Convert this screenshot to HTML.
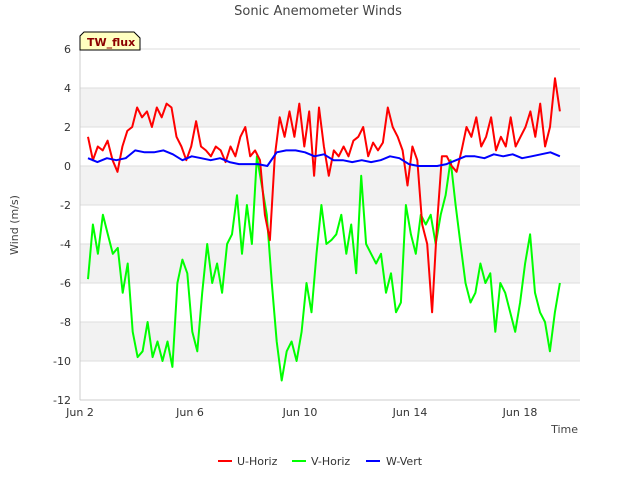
<!DOCTYPE html>
<html><head><meta charset="utf-8"><style>
body{margin:0;background:#fff;font-family:"Liberation Sans","DejaVu Sans",sans-serif}
svg text{font-family:"DejaVu Sans","Liberation Sans",sans-serif}
</style></head><body>
<svg id="chart" width="640" height="480">
<text x="318" y="15" text-anchor="middle" font-size="13" fill="#444">Sonic Anemometer Winds</text>
<g id="bands"></g><g id="grid"></g>
<line x1="80" y1="49" x2="80" y2="400" stroke="#ccc"/>
<line x1="80" y1="400" x2="580" y2="400" stroke="#ccc"/>
<g id="ticks"></g>
<g id="series"></g>
<text transform="translate(18,225) rotate(-90)" text-anchor="middle" font-size="11" fill="#444">Wind (m/s)</text>
<text x="578" y="433" text-anchor="end" font-size="11" fill="#444">Time</text>
<g>
<path d="M80,50 L80,36 L84,32 L134,32 L140,38 L140,50 Z" fill="#ffffc0" stroke="#000" stroke-width="1"/>
<text x="87" y="46" font-size="11" font-weight="bold" fill="#8b0000">TW_flux</text></g>
<g>
<g><line x1="218" y1="461" x2="232" y2="461" stroke="#f00" stroke-width="2"/><text x="237" y="465" font-size="11" fill="#333">U-Horiz</text></g>
<g><line x1="292" y1="461" x2="306" y2="461" stroke="#0f0" stroke-width="2"/><text x="311" y="465" font-size="11" fill="#333">V-Horiz</text></g>
<g><line x1="366" y1="461" x2="380" y2="461" stroke="#00f" stroke-width="2"/><text x="386" y="465" font-size="11" fill="#333">W-Vert</text></g>
</g>
</svg>
<script>
const yTicks=[6,4,2,0,-2,-4,-6,-8,-10,-12];
const xTickDays=[0,4,8,12,16];
const xTickLabels=["Jun 2","Jun 6","Jun 10","Jun 14","Jun 18"];
const tStart=0.29, tEnd=17.45;
const uHoriz=[1.5,0.3,1.0,0.8,1.3,0.3,-0.3,1.0,1.8,2.0,3.0,2.5,2.8,2.0,3.0,2.5,3.2,3.0,1.5,1.0,0.3,1.0,2.3,1.0,0.8,0.5,1.0,0.8,0.2,1.0,0.5,1.5,2.0,0.5,0.8,0.3,-2.5,-3.8,0.5,2.5,1.5,2.8,1.5,3.2,1.0,2.8,-0.5,3.0,1.0,-0.5,0.8,0.5,1.0,0.5,1.3,1.5,2.0,0.5,1.2,0.8,1.2,3.0,2.0,1.5,0.8,-1.0,1.0,0.3,-3.0,-4.0,-7.5,-3.0,0.5,0.5,0.0,-0.3,0.8,2.0,1.5,2.5,1.0,1.5,2.5,0.8,1.5,1.0,2.5,1.0,1.5,2.0,2.8,1.5,3.2,1.0,2.0,4.5,2.8];
const vHoriz=[-5.8,-3.0,-4.5,-2.5,-3.5,-4.5,-4.2,-6.5,-5.0,-8.5,-9.8,-9.5,-8.0,-9.8,-9.0,-10.0,-9.0,-10.3,-6.0,-4.8,-5.5,-8.5,-9.5,-6.5,-4.0,-6.0,-5.0,-6.5,-4.0,-3.5,-1.5,-4.5,-2.0,-4.0,0.5,-1.0,-2.5,-6.0,-9.0,-11.0,-9.5,-9.0,-10.0,-8.5,-6.0,-7.5,-4.5,-2.0,-4.0,-3.8,-3.5,-2.5,-4.5,-3.0,-5.5,-0.5,-4.0,-4.5,-5.0,-4.5,-6.5,-5.5,-7.5,-7.0,-2.0,-3.5,-4.5,-2.5,-3.0,-2.5,-4.0,-2.5,-1.5,0.3,-2.0,-4.0,-6.0,-7.0,-6.5,-5.0,-6.0,-5.5,-8.5,-6.0,-6.5,-7.5,-8.5,-7.0,-5.0,-3.5,-6.5,-7.5,-8.0,-9.5,-7.5,-6.0];
const wVert=[0.4,0.2,0.4,0.3,0.4,0.8,0.7,0.7,0.8,0.6,0.3,0.5,0.4,0.3,0.4,0.2,0.1,0.1,0.1,0.0,0.7,0.8,0.8,0.7,0.5,0.6,0.3,0.3,0.2,0.3,0.2,0.3,0.5,0.4,0.1,0.0,0.0,0.0,0.1,0.3,0.5,0.5,0.4,0.6,0.5,0.6,0.4,0.5,0.6,0.7,0.5];
const NS='http://www.w3.org/2000/svg';
function xS(d){return 80+d*27.5;}
function yS(v){return 166-v*19.5;}
function mk(tag,attrs,parent){const e=document.createElementNS(NS,tag);for(const k in attrs)e.setAttribute(k,attrs[k]);document.getElementById(parent).appendChild(e);return e;}
for(let i=0;i<yTicks.length-1;i++){
  if(i%2===1){const b=mk('rect',{x:80,y:yS(yTicks[i]),width:500,height:yS(yTicks[i+1])-yS(yTicks[i]),fill:'#f2f2f2'},'bands');
  
  }
}
yTicks.forEach(v=>{
  const g=mk('line',{x1:80,x2:580,y1:yS(v),y2:yS(v),stroke:'#ddd'},'grid');
  
  
  const t=mk('text',{x:71,y:yS(v)+4,'text-anchor':'end','font-size':11,fill:'#333'},'ticks');
  t.textContent=v;
  
  
});
xTickDays.forEach((d,i)=>{
  const t=mk('text',{x:xS(d),y:416,'text-anchor':'middle','font-size':11,fill:'#333'},'ticks');
  t.textContent=xTickLabels[i];
  
  
});
function draw(arr,color,name){
  const n=arr.length;
  const pts=arr.map((v,i)=>xS(tStart+i*(tEnd-tStart)/(n-1)).toFixed(1)+','+yS(v).toFixed(1)).join(' ');
  const p=mk('polyline',{points:pts,fill:'none',stroke:color,'stroke-width':2,'stroke-linejoin':'round'},'series');
  
  
}
draw(vHoriz,'#00ff00','v-horiz-line');
draw(uHoriz,'#ff0000','u-horiz-line');
draw(wVert,'#0000ff','w-vert-line');
</script>
</body></html>
